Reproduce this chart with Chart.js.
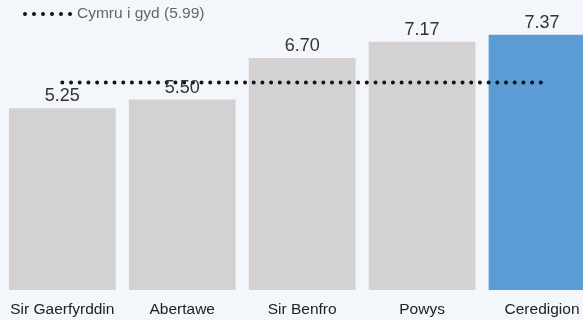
<!DOCTYPE html>
<html>
<head>
<meta charset="utf-8">
<script src="https://cdn.jsdelivr.net/npm/chart.js@4"></script>
<style>
  html, body { margin: 0; padding: 0; background: #f3f6fa; overflow: hidden; }
  #wrap { width: 602px; height: 320px; }
</style>
</head>
<body>
<div id="wrap"><canvas id="chart"></canvas></div>
<script>
const areas = ['Sir Gaerfyrddin', 'Abertawe', 'Sir Benfro', 'Powys', 'Ceredigion'];
const values = [5.25, 5.50, 6.70, 7.17, 7.37];
const highlight = 'Ceredigion';
const walesLabel = 'Cymru i gyd (5.99)';
const walesValue = 5.99;

const grey = '#d3d1d1';
const blue = '#5b9bd6';
const font = "'Liberation Sans', Arial, sans-serif";

// value labels above bars + custom legend with dotted sample
const labelsPlugin = {
  id: 'labels',
  afterDatasetsDraw(chart) {
    const ctx = chart.ctx;
    const meta = chart.getDatasetMeta(0);
    ctx.save();
    ctx.fillStyle = '#333';
    ctx.font = '18px ' + font;
    ctx.textAlign = 'center';
    ctx.textBaseline = 'alphabetic';
    meta.data.forEach((bar, i) => {
      ctx.fillText(values[i].toFixed(2), bar.x, bar.y - 7);
    });

    // legend
    ctx.strokeStyle = '#111';
    ctx.lineWidth = 4;
    ctx.lineCap = 'round';
    ctx.setLineDash([0, 9]);
    ctx.beginPath();
    ctx.moveTo(25, 14);
    ctx.lineTo(71, 14);
    ctx.stroke();
    ctx.setLineDash([]);
    ctx.fillStyle = '#666';
    ctx.font = '15.5px ' + font;
    ctx.textAlign = 'left';
    ctx.textBaseline = 'middle';
    ctx.fillText(walesLabel, 77, 14);
    ctx.restore();
  }
};

const ctx = document.getElementById('chart').getContext('2d');
const chart = new Chart(ctx, {
  type: 'bar',
  data: {
    labels: areas,
    datasets: [
      {
        type: 'bar',
        data: values,
        backgroundColor: areas.map(a => a === highlight ? blue : grey),
        barPercentage: 0.89,
        categoryPercentage: 1,
        order: 1
      },
      {
        type: 'line',
        label: walesLabel,
        data: areas.map(() => walesValue),
        borderColor: '#111',
        borderWidth: 4,
        borderDash: [0, 8.7],
        borderCapStyle: 'round',
        pointRadius: 0,
        fill: false,
        order: 0
      }
    ]
  },
  options: {
    responsive: true,
    maintainAspectRatio: false,
    animation: false,
    layout: { padding: { left: 2, right: 0, top: 13, bottom: 0 } },
    plugins: {
      legend: { display: false },
      tooltip: { enabled: false }
    },
    scales: {
      x: {
        grid: { display: false, drawTicks: false },
        border: { display: false },
        ticks: { color: '#222', font: { family: font, size: 15.5 }, padding: 10, maxRotation: 0 },
        afterFit(scale) { scale.height = 30; }
      },
      y: {
        display: false,
        min: 0,
        max: 8
      }
    }
  },
  plugins: [labelsPlugin]
});
</script>
</body>
</html>
